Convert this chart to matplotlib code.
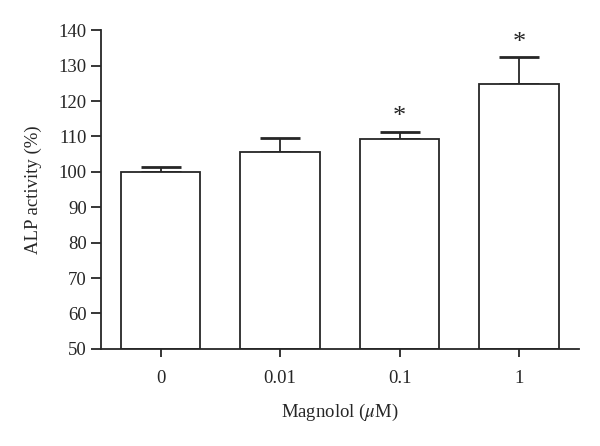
import matplotlib
matplotlib.use("Agg")
import matplotlib.pyplot as plt

# data
doses = ["0", "0.01", "0.1", "1"]
alp_activity = [100.0, 105.5, 109.3, 124.7]
alp_error = [1.4, 4.2, 2.0, 7.7]
significant = [False, False, True, True]

plt.rcParams['font.family'] = ['Liberation Serif', 'DejaVu Serif']
plt.rcParams['mathtext.fontset'] = 'stix'

fig = plt.figure(figsize=(6, 4.46), dpi=100)
ax = fig.add_axes([0.168, 0.218, 0.797, 0.714])

ink = "#262626"
xs = range(len(doses))
ax.bar(xs, [v - 50 for v in alp_activity], bottom=50, width=0.665,
       color="white", edgecolor=ink, linewidth=1.3, zorder=2)
ax.errorbar(xs, alp_activity, yerr=[[0] * len(alp_error), alp_error],
            fmt="none", ecolor=ink, elinewidth=1.3, capsize=14.4, capthick=2.0,
            zorder=1)

for x, v, e, s in zip(xs, alp_activity, alp_error, significant):
    if s:
        ax.text(x, v + e + 1.0, "*", ha="center", va="bottom",
                fontsize=19, color=ink)

ax.set_xlim(-0.5, 3.5)
ax.set_ylim(50, 140)
ax.set_yticks(range(50, 141, 10))
ax.set_xticks(list(xs))
ax.set_xticklabels(doses)

for side in ["top", "right"]:
    ax.spines[side].set_visible(False)
for side in ["left", "bottom"]:
    ax.spines[side].set_linewidth(1.3)
    ax.spines[side].set_color(ink)

ax.tick_params(axis="y", length=7, width=1.3, color=ink, labelsize=13.5,
               labelcolor=ink, pad=3)
ax.tick_params(axis="x", length=6, width=1.3, color=ink, labelsize=13.5,
               labelcolor=ink, pad=9)

ax.set_ylabel("ALP activity (%)", fontsize=13.5, color=ink, labelpad=12)
ax.set_xlabel("Magnolol ($\\mu$M)", fontsize=13.5, color=ink, labelpad=11)

fig.savefig("out.png", dpi=100)
